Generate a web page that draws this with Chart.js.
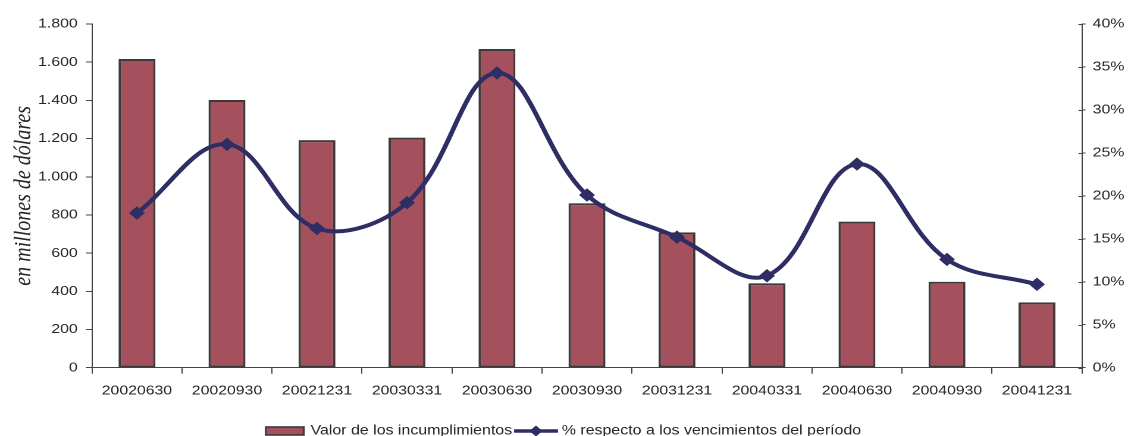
<!DOCTYPE html>
<html>
<head>
<meta charset="utf-8">
<script src="https://cdn.jsdelivr.net/npm/chart.js@4.4.1/dist/chart.umd.min.js"></script>
<style>
  html, body { margin: 0; padding: 0; background: #ffffff; overflow: hidden; width: 1128px; height: 436px; }
  #wrap { width: 1128px; height: 436px; overflow: hidden; }
  canvas { display: block; }
</style>
</head>
<body>
<div id="wrap">
  <!-- drawn at 948 logical px wide and shown 1128 px wide (wide text, as in the printed report) -->
  <canvas id="chart" width="948" height="448" style="width:1128px;height:448px"></canvas>
</div>
<script>
// ---- data ----
const categories = ['20020630', '20020930', '20021231', '20030331', '20030630', '20030930',
                    '20031231', '20040331', '20040630', '20040930', '20041231'];
const defaultValues = [1617, 1402, 1192, 1205, 1669, 861, 709, 442, 765, 450, 342];
const pctOfMaturities = [18.0, 26.0, 16.2, 19.2, 34.3, 20.1, 15.2, 10.7, 23.7, 12.6, 9.7];
const amountTicks = [0, 200, 400, 600, 800, 1000, 1200, 1400, 1600, 1800];
const amountTickLabels = ['0', '200', '400', '600', '800', '1.000', '1.200', '1.400', '1.600', '1.800'];
const pctTicks = [0, 5, 10, 15, 20, 25, 30, 35, 40];
const pctTickLabels = ['0%', '5%', '10%', '15%', '20%', '25%', '30%', '35%', '40%'];
const seriesNames = ['Valor de los incumplimientos', '% respecto a los vencimientos del período'];
const axisTitle = 'en millones de dólares';

// ---- look ----
const BAR_FILL = '#A5505D';
const BAR_EDGE = '#3a3a3a';
const LINE_COLOR = '#2F2E64';
const AXIS_COLOR = '#444444';
const TEXT_COLOR = '#262626';
const LEFT_W = 77.3;    // left axis box width (logical px)
const RIGHT_W = 38.7;   // right axis box width
const X_H = 51.6;       // category axis box height

Chart.defaults.font.family = "'Liberation Sans', Arial, sans-serif";
Chart.defaults.font.size = 13.3;
Chart.defaults.color = TEXT_COLOR;

// legend keys, rendered at 2x so they stay sharp on the 2x canvas
function makeKey(w, h, draw) {
  const c = document.createElement('canvas');
  c.width = w * 2; c.height = h * 2;
  const g = c.getContext('2d');
  g.scale(2, 2);
  draw(g, w, h);
  const img = new Image();
  img.width = w; img.height = h;
  return new Promise(res => { img.onload = () => res(img); img.src = c.toDataURL(); });
}

const barKeyP = makeKey(34, 10, (g, w, h) => {
  g.fillStyle = BAR_FILL; g.fillRect(1, 1, w - 2, h - 2);
  g.strokeStyle = BAR_EDGE; g.lineWidth = 1.6; g.strokeRect(1, 1, w - 2, h - 2);
});
const lineKeyP = makeKey(37, 12, (g, w, h) => {
  g.strokeStyle = LINE_COLOR; g.lineWidth = 3.5;
  g.beginPath(); g.moveTo(0, h / 2); g.lineTo(w, h / 2); g.stroke();
  g.fillStyle = LINE_COLOR;
  g.beginPath();
  g.moveTo(w / 2 - 5.5, h / 2); g.lineTo(w / 2, h / 2 - 5.5);
  g.lineTo(w / 2 + 5.5, h / 2); g.lineTo(w / 2, h / 2 + 5.5);
  g.closePath(); g.fill();
});

// short tick marks on the inner side of the right axis
const innerRightTicks = {
  id: 'innerRightTicks',
  afterDraw(chart) {
    const s = chart.scales.y1;
    const ctx = chart.ctx;
    ctx.save();
    ctx.strokeStyle = AXIS_COLOR;
    ctx.lineWidth = 1;
    s.ticks.forEach(t => {
      const y = Math.round(s.getPixelForValue(t.value)) + 0.5;
      ctx.beginPath();
      ctx.moveTo(s.left - 3, y);
      ctx.lineTo(s.left, y);
      ctx.stroke();
    });
    ctx.restore();
  }
};

Promise.all([barKeyP, lineKeyP]).then(([barKey, lineKey]) => {
  new Chart(document.getElementById('chart'), {
    type: 'bar',
    data: {
      labels: categories,
      datasets: [
        {
          type: 'line',
          label: seriesNames[1],
          data: pctOfMaturities,
          yAxisID: 'y1',
          order: 0,
          borderColor: LINE_COLOR,
          borderWidth: 4,
          tension: 0.38,
          fill: false,
          pointStyle: 'rectRot',
          pointRadius: 6,
          pointBackgroundColor: LINE_COLOR,
          pointBorderColor: LINE_COLOR,
          pointBorderWidth: 1
        },
        {
          type: 'bar',
          label: seriesNames[0],
          data: defaultValues,
          yAxisID: 'y',
          order: 1,
          backgroundColor: BAR_FILL,
          borderColor: BAR_EDGE,
          borderWidth: 2,
          borderSkipped: false,
          barPercentage: 0.41,
          categoryPercentage: 1
        }
      ]
    },
    options: {
      responsive: false,
      devicePixelRatio: 2,
      animation: false,
      layout: { padding: { top: 24, left: 0, right: 0, bottom: 0.3 } },
      plugins: {
        tooltip: { enabled: false },
        legend: {
          position: 'bottom',
          align: 'center',
          labels: {
            usePointStyle: true,
            pointStyleWidth: 30,
            padding: 5,
            color: TEXT_COLOR,
            font: { size: 13.4 },
            generateLabels: () => [
              { text: seriesNames[0], pointStyle: barKey, fillStyle: BAR_FILL, strokeStyle: BAR_EDGE, lineWidth: 0, hidden: false, datasetIndex: 1, fontColor: TEXT_COLOR },
              { text: seriesNames[1], pointStyle: lineKey, fillStyle: LINE_COLOR, strokeStyle: LINE_COLOR, lineWidth: 0, hidden: false, datasetIndex: 0, fontColor: TEXT_COLOR }
            ]
          }
        }
      },
      scales: {
        x: {
          offset: true,
          grid: { offset: true, drawOnChartArea: false, drawTicks: true, tickLength: 6, color: AXIS_COLOR },
          border: { color: AXIS_COLOR, width: 1 },
          ticks: { padding: 9, maxRotation: 0, autoSkip: false, color: TEXT_COLOR },
          afterFit: s => { s.height = X_H; }
        },
        y: {
          position: 'left',
          min: 0, max: 1800,
          afterBuildTicks: s => { s.ticks = amountTicks.map(v => ({ value: v })); },
          ticks: {
            padding: 7,
            color: TEXT_COLOR,
            callback: v => amountTickLabels[amountTicks.indexOf(v)]
          },
          grid: { drawOnChartArea: false, drawTicks: true, tickLength: 5, color: AXIS_COLOR },
          border: { color: AXIS_COLOR, width: 1 },
          title: {
            display: true,
            text: axisTitle,
            color: TEXT_COLOR,
            font: { family: "'Liberation Serif', 'Times New Roman', serif", style: 'italic', size: 20 },
            padding: { top: 8, bottom: 0 }
          },
          afterFit: s => { s.width = LEFT_W; }
        },
        y1: {
          position: 'right',
          min: 0, max: 40,
          afterBuildTicks: s => { s.ticks = pctTicks.map(v => ({ value: v })); },
          ticks: {
            padding: 6,
            color: TEXT_COLOR,
            callback: v => pctTickLabels[pctTicks.indexOf(v)]
          },
          grid: { drawOnChartArea: false, drawTicks: true, tickLength: 3, color: AXIS_COLOR },
          border: { color: AXIS_COLOR, width: 1 },
          afterFit: s => { s.width = RIGHT_W; }
        }
      }
    },
    plugins: [innerRightTicks]
  });
});
</script>
</body>
</html>
